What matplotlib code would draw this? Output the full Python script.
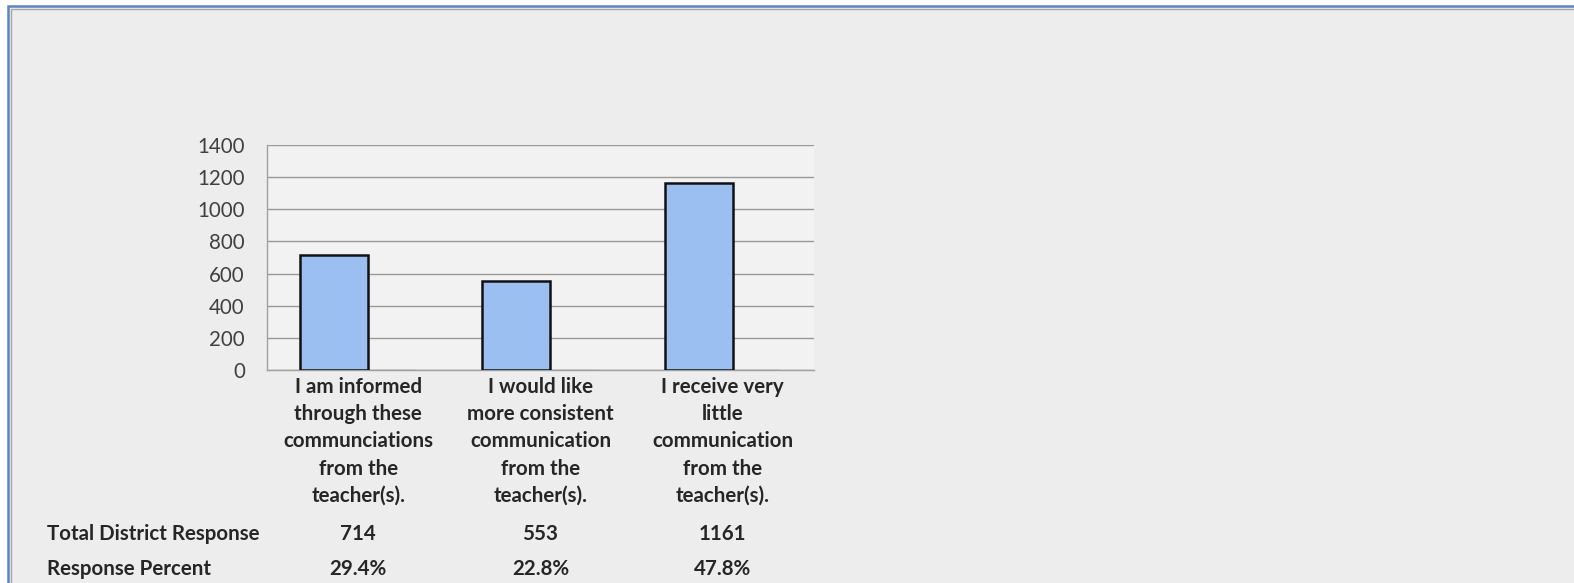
"""Teacher communication survey: clustered bar chart with a data table below."""

import matplotlib.pyplot as plt
from matplotlib.patches import Rectangle
from matplotlib.transforms import blended_transform_factory

categories = [
    "I am informed\nthrough these\ncommunciations\nfrom the\nteacher(s).",
    "I would like\nmore consistent\ncommunication\nfrom the\nteacher(s).",
    "I receive very\nlittle\ncommunication\nfrom the\nteacher(s).",
]
responses = [714, 553, 1161]
percents = ["29.4%", "22.8%", "47.8%"]
second_series = [0, 0, 0]
row_labels = ["Total District Response", "Response Percent"]
y_ticks = [0, 200, 400, 600, 800, 1000, 1200, 1400]

W, H = 1574, 583
BAR_BLUE = "#9bbff1"
TEXT = "#404040"
FS = 14.8

plt.rcParams["font.family"] = ["Lato", "DejaVu Sans"]

fig = plt.figure(figsize=(W / 100, H / 100), dpi=100)
fig.patch.set_facecolor("white")

# outer frame: blue line with a thin grey inner line, open at right/bottom
fig.patches.append(Rectangle((8 / W, -0.1), 1.2, (H - 6) / H + 0.1, transform=fig.transFigure,
                             facecolor="#ededed", edgecolor="#5a86c3", linewidth=1.8, zorder=-10))
fig.patches.append(Rectangle((10.5 / W, -0.1), 1.2, (H - 8.5) / H + 0.1, transform=fig.transFigure,
                             facecolor="none", edgecolor="#a6a6a6", linewidth=1.0, zorder=-10))

ax = fig.add_axes([267 / W, (H - 370) / H, (814 - 267) / W, (370 - 145) / H])
ax.set_facecolor("#f2f2f2")

x = list(range(len(categories)))
width = 0.373
ax.bar([i - 0.132 for i in x], responses, width=width, color=BAR_BLUE,
       edgecolor="#111111", linewidth=1.8, zorder=3)
ax.bar([i + 0.134 for i in x], second_series, width=width, color="none",
       edgecolor="#cfcfcf", linewidth=1.4, zorder=2)

ax.set_xlim(-0.5, len(categories) - 0.5)
ax.set_ylim(0, 1400)
ax.set_yticks(y_ticks)
ax.set_yticklabels([str(v) for v in y_ticks], fontsize=FS, color=TEXT)
ax.tick_params(axis="y", length=0, pad=16)
ax.yaxis.grid(True, color="#9a9a9a", linewidth=1.0, zorder=1)
ax.set_axisbelow(True)

ax.set_xticks(x)
ax.set_xticklabels(categories, fontsize=FS, fontweight="bold", color="#262626",
                   linespacing=1.45)
ax.tick_params(axis="x", length=0, pad=5)

for side in ("top", "right"):
    ax.spines[side].set_visible(False)
for side in ("left", "bottom"):
    ax.spines[side].set_color("#a0a0a0")
    ax.spines[side].set_linewidth(1.0)

# data table rows under the category labels
trans = blended_transform_factory(ax.transData, fig.transFigure)
row_pos = (534, 569)
for row_y, values in zip(row_pos, (responses, percents)):
    for i, val in zip(x, values):
        ax.text(i, (H - row_y) / H, str(val), transform=trans, ha="center", va="center",
                fontsize=FS, fontweight="bold", color="#262626")
for label, row_y in zip(row_labels, row_pos):
    fig.text(47 / W, (H - row_y) / H, label, ha="left", va="center",
             fontsize=FS, fontweight="bold", color="#262626")

fig.savefig("out.png", dpi=100)
